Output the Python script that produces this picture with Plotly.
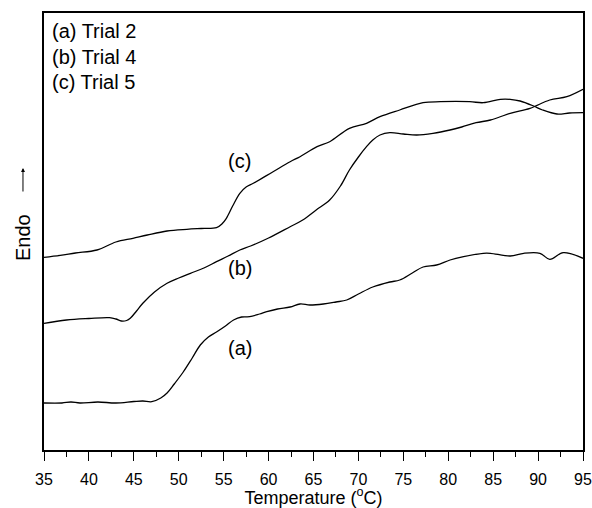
import plotly.graph_objects as go

# Temperature (°C) and DSC signal (arbitrary units, endo up)
temp_a = [35, 37, 38, 39, 41, 43, 45, 46, 47, 48, 48.7, 49.5, 50.5, 51.5, 52.4, 53.3, 54.2, 55.2,
          56.1, 57, 57.9, 59, 59.8, 61, 62.4, 63.5, 64.6, 66.1, 67.5, 68.7, 70, 71.6, 73.5, 74.6,
          76, 77.2, 78.7, 80.2, 81.7, 83.9, 84.7, 86.9, 88.4, 90.2, 91.3, 92.8, 95]
sig_a = [47, 47, 48, 47, 48, 47, 48.5, 49, 48.3, 52, 57, 66, 78, 92, 105, 113, 118, 124,
         130, 133, 133.3, 136, 138.3, 141, 143, 146, 145, 146, 148, 150, 156, 163, 168, 170,
         177, 183, 185, 190, 193.3, 196.7, 196.7, 194, 196.7, 196.7, 190.7, 197.3, 191.7]

temp_b = [35, 37.5, 40, 42.3, 43, 43.6, 44.2, 44.6, 45.3, 46, 47.3, 48.7, 50, 51.3, 52.8, 54.2,
          55.5, 56.8, 58, 60, 62.4, 63.8, 65.3, 66.8, 68, 69, 70, 70.9, 71.6, 72.4, 73.5, 75,
          76.5, 78.3, 80.2, 81.5, 83.1, 84.7, 86.9, 89.1, 91.3, 93.2, 95]
sig_b = [126.7, 130, 131.5, 132.3, 131, 129, 129.5, 131.7, 139, 146.7, 158, 166.7, 172, 176.7,
         182, 188.3, 194, 200, 204, 212, 223.3, 230, 240, 250, 264, 280, 293, 303.3, 310, 315,
         317.3, 316, 315, 316.7, 320, 323, 327.3, 330, 336.7, 341.7, 350, 353.3, 360.7]

temp_c = [35, 36.8, 38.5, 40.9, 43, 44.9, 46.5, 48.7, 50.9, 52.5, 54.2, 54.8, 55.3, 56, 56.8,
          57.5, 58.3, 60.5, 62.4, 63.5, 65.4, 66.8, 69, 70.9, 72.4, 74.6, 77.2, 79.1, 82.4,
          83.9, 85.8, 86.9, 88, 89.5, 90.5, 92.1, 93.5, 95]
sig_c = [192.7, 194.7, 197, 200, 208, 211.7, 215, 219, 220.7, 221.5, 222.3, 226, 231.7, 244,
         256.7, 263, 266.7, 278.3, 288.3, 293.3, 303.3, 308.3, 321.7, 326.7, 333.3, 340, 347.3,
         348.3, 348.3, 347.3, 350.7, 350.7, 349, 344, 340, 336, 337, 337.3]

legend_lines = ["(a) Trial 2", "(b) Trial 4", "(c) Trial 5"]
curve_labels = ["(a)", "(b)", "(c)"]
x_ticks = list(range(35, 96, 5))
x_title = "Temperature (<sup>o</sup>C)"

FONT = "Liberation Sans, Arial, sans-serif"

fig = go.Figure()
for t, s in [(temp_a, sig_a), (temp_b, sig_b), (temp_c, sig_c)]:
    fig.add_trace(go.Scatter(x=t, y=s, mode="lines", line=dict(color="black", width=1.3),
                             line_shape="spline", showlegend=False, hoverinfo="skip"))

ann = []
for i, txt in enumerate(legend_lines):
    ann.append(dict(x=35.7, y=419 - 25.5 * i, xref="x", yref="y", text=txt, showarrow=False,
                    xanchor="left", yanchor="middle", font=dict(size=20, color="black", family=FONT)))
label_pos = [(56.8, 102), (56.8, 182), (56.8, 289)]
for txt, (lx, ly) in zip(curve_labels, label_pos):
    ann.append(dict(x=lx, y=ly, xref="x", yref="y", text=txt, showarrow=False,
                    xanchor="center", yanchor="middle", font=dict(size=20, color="black", family=FONT)))
ann.append(dict(x=-0.039, y=213, xref="paper", yref="y", text="Endo", showarrow=False,
                textangle=-90, xanchor="center", yanchor="middle",
                font=dict(size=20, color="black", family=FONT)))
ann.append(dict(x=-0.039, y=282, xref="paper", yref="y", text="", showarrow=True,
                ax=0, ay=25, arrowhead=2, arrowsize=0.8, arrowwidth=1, arrowcolor="black"))

fig.update_layout(
    width=592, height=508, autosize=False,
    margin=dict(l=44, r=9, t=13, b=58, autoexpand=False),
    paper_bgcolor="white", plot_bgcolor="white",
    font=dict(family=FONT, color="black"),
    annotations=ann,
    xaxis=dict(range=[35, 95], tickvals=x_ticks, ticks="outside", ticklen=9, tickwidth=1.2,
               tickcolor="black", showline=True, linecolor="black", linewidth=1.5, mirror=True,
               showgrid=False, zeroline=False, tickfont=dict(size=16, family=FONT),
               automargin=False, ticklabelstandoff=5, ticklabeloverflow="allow",
               minor=dict(dtick=2.5, tick0=35, ticks="outside", ticklen=5, tickwidth=1.2,
                          tickcolor="black", showgrid=False),
               title=dict(text=x_title, font=dict(size=18, family=FONT), standoff=6)),
    yaxis=dict(range=[0, 437], showticklabels=False, ticks="", showline=True, linecolor="black",
               linewidth=1.5, mirror=True, showgrid=False, zeroline=False, automargin=False),
)

fig.write_html("out.html", config={"displayModeBar": False},
               post_script="document.body.style.margin='0';document.body.style.overflow='hidden';")
